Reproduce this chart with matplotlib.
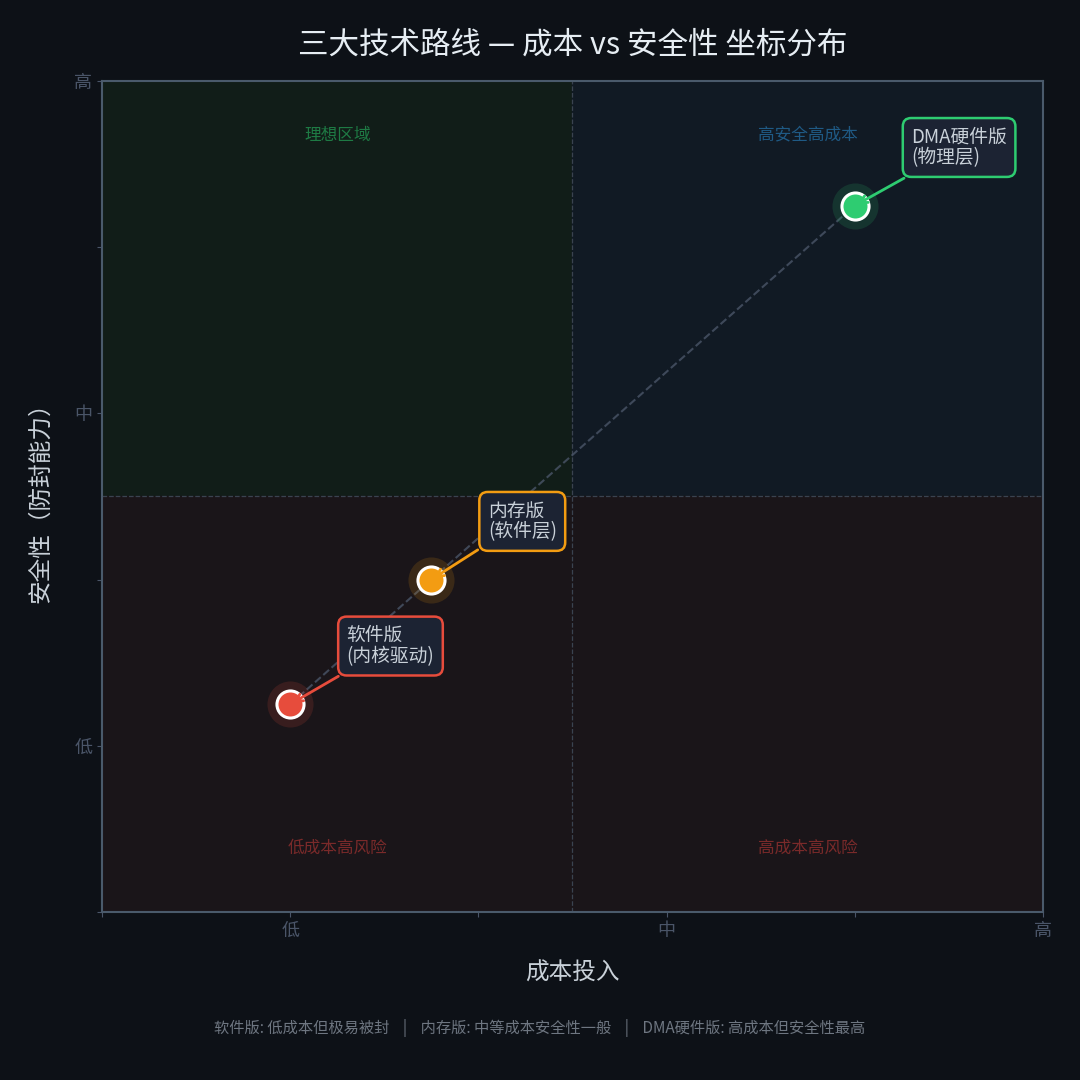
import matplotlib
matplotlib.use('Agg')
import matplotlib.pyplot as plt
from matplotlib.patches import Rectangle

plt.rcParams['font.family'] = ['Noto Sans CJK SC', 'DejaVu Sans']

# 数据
names = ['软件版\n(内核驱动)', '内存版\n(软件层)', 'DMA硬件版\n(物理层)']
cost = [2.0, 3.5, 8.0]
safety = [2.5, 4.0, 8.5]
colors = ['#e74c3c', '#f39c12', '#2ecc71']
label_pos = [(2.6, 3.2), (4.1, 4.7), (8.6, 9.2)]

tick_vals = [0, 2, 4, 6, 8, 10]
tick_labels = ['', '低', '', '中', '', '高']

quad_labels = ['理想区域', '高安全高成本', '低成本高风险', '高成本高风险']
quad_xy = [(2.5, 9.35), (7.5, 9.35), (2.5, 0.77), (7.5, 0.77)]
quad_colors = ['#1e7a44', '#1f5a85', '#7a2a2a', '#7a2a2a']

footer = '软件版: 低成本但极易被封    |    内存版: 中等成本安全性一般    |    DMA硬件版: 高成本但安全性最高'

bg = '#0d1117'
fig = plt.figure(figsize=(10.8, 10.8), dpi=100, facecolor=bg)
ax = fig.add_axes([0.0944, 0.1556, 0.8713, 0.7694])
ax.set_facecolor(bg)
ax.set_xlim(0, 10)
ax.set_ylim(0, 10)

# 象限背景
ax.add_patch(Rectangle((0, 5), 5, 5, color='#111d18', zorder=0))
ax.add_patch(Rectangle((5, 5), 5, 5, color='#111a24', zorder=0))
ax.add_patch(Rectangle((0, 0), 10, 5, color='#1a1519', zorder=0))
ax.axvline(5, color='#3a4350', ls='--', lw=0.9, zorder=1)
ax.axhline(5, color='#3a4350', ls='--', lw=0.9, zorder=1)

for t, (qx, qy), c in zip(quad_labels, quad_xy, quad_colors):
    ax.text(qx, qy, t, color=c, fontsize=12, ha='center', va='center', fontweight='light')

# 连线
ax.plot(cost, safety, color='#4a5568', ls='--', lw=1.5, alpha=0.8, zorder=2)

for x, y, c, n, (tx, ty) in zip(cost, safety, colors, names, label_pos):
    ax.scatter([x], [y], s=1100, color=c, alpha=0.15, zorder=3, lw=0)
    ax.scatter([x], [y], s=380, color=c, edgecolor='white', lw=2.2, zorder=4)
    ax.annotate(n, xy=(x, y), xytext=(tx, ty), color='#c9d1d9', fontsize=13.5,
                ha='left', va='center', fontweight='light', linespacing=1.0,
                bbox=dict(boxstyle='round,pad=0.45', fc='#1c2333', ec=c, lw=1.8),
                arrowprops=dict(arrowstyle='->', color=c, lw=2), zorder=5)

ax.set_xticks(tick_vals)
ax.set_xticklabels(tick_labels)
ax.set_yticks(tick_vals)
ax.set_yticklabels(tick_labels)
ax.tick_params(colors='#4a5568', labelcolor='#4a5568', labelsize=13)
for s in ax.spines.values():
    s.set_color('#4a5a6b')
    s.set_linewidth(1.5)

ax.set_xlabel('成本投入', color='#c9d1d9', fontsize=17, labelpad=16, fontweight='light')
ax.set_ylabel('安全性（防封能力）', color='#c9d1d9', fontsize=17, labelpad=16, fontweight='light')
ax.set_title('三大技术路线 — 成本 vs 安全性 坐标分布', color='#e6edf3', fontsize=22,
             pad=20, fontweight='light')
fig.text(0.5, 0.048, footer, color='#6e7681', fontsize=11, ha='center', va='center')

fig.savefig('out.png', dpi=100, facecolor=bg)
